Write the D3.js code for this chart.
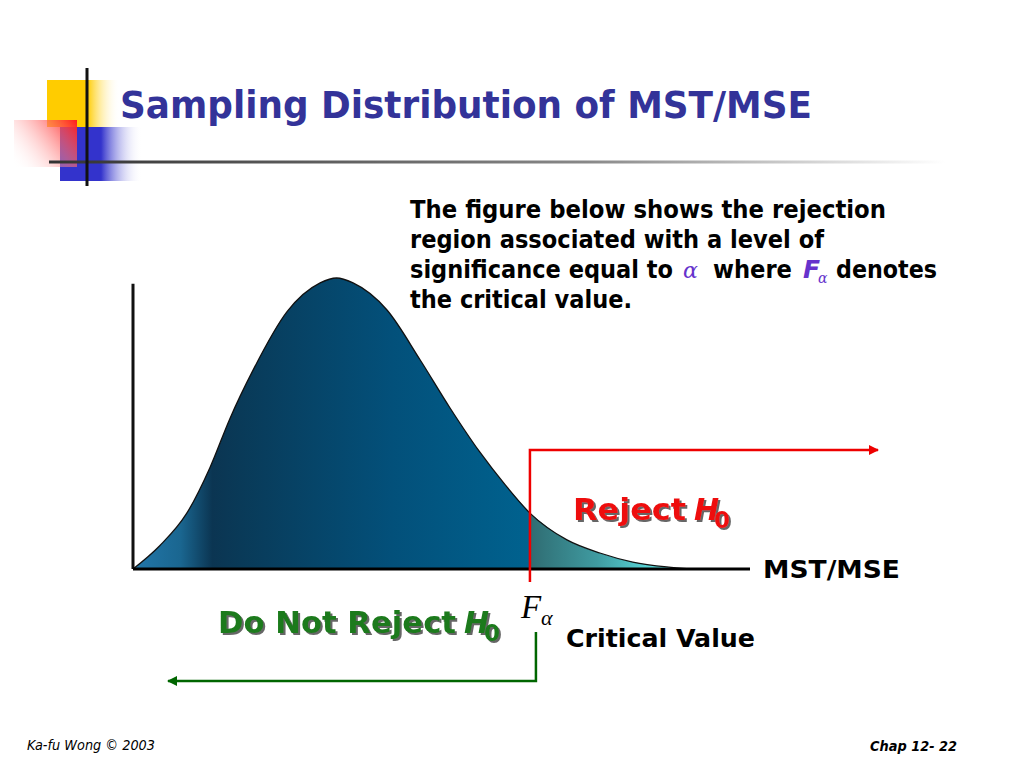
<!DOCTYPE html>
<html>
<head>
<meta charset="utf-8">
<script src="https://cdn.jsdelivr.net/npm/d3@7"></script>
<style>
  body { margin: 0; background: #fff; }
  svg { display: block; }
</style>
</head>
<body>
<svg width="1024" height="768"></svg>
<script>
// F-like density (x in MST/MSE units, y relative to peak)
const densityX = [0, 0.26, 0.52, 0.75, 0.94, 1.17, 1.5, 1.82, 1.98, 2.14, 2.47, 2.79, 3.08, 3.37, 3.62, 3.86, 4.22, 4.54, 4.86, 5.19, 5.42];
const densityY = [0, 0.08, 0.19, 0.35, 0.515, 0.685, 0.885, 0.983, 1.0, 0.983, 0.89, 0.72, 0.555, 0.403, 0.289, 0.192, 0.10, 0.055, 0.024, 0.007, 0];
const criticalValue = 3.86;
const xMax = 6;
const yAxisTop = 0.98;

const bodyLines = [
  "The figure below shows the rejection",
  "region associated with a level of",
  null,
  "the critical value."
];
const lineWidths = [476, 414, null, 222];

const svg = d3.select("svg");
const font = "'DejaVu Sans', Verdana, sans-serif";

const x = d3.scaleLinear().domain([0, xMax]).range([133, 750]);
const y = d3.scaleLinear().domain([0, 1]).range([569, 278]);

const defs = svg.append("defs");

const grad = (id, stops, x1, x2, y1 = 0, y2 = 0) => {
  const g = defs.append("linearGradient").attr("id", id)
    .attr("gradientUnits", "userSpaceOnUse")
    .attr("x1", x1).attr("x2", x2).attr("y1", y1).attr("y2", y2);
  stops.forEach(([o, c, op = 1]) =>
    g.append("stop").attr("offset", o).attr("stop-color", c).attr("stop-opacity", op));
};

const shadow = defs.append("filter").attr("id", "shadow")
  .attr("x", "-10%").attr("y", "-20%").attr("width", "130%").attr("height", "150%");
shadow.append("feDropShadow").attr("dx", 2).attr("dy", 2).attr("stdDeviation", 0.4)
  .attr("flood-color", "#555555").attr("flood-opacity", 0.9);

// --- title decoration ---
grad("yellowFade", [[0, "#ffcc00"], [0.55, "#ffcc00"], [1, "#ffffff", 0]], 47, 120);
grad("blueFade", [[0, "#3333cc"], [0.5, "#3333cc"], [1, "#ffffff", 0]], 60, 142);
grad("redFade", [[0, "#ffffff", 0], [1, "#ff1a1a"]], 14, 77, 167, 120);
grad("ruleFade", [[0, "#333333"], [0.6, "#888888"], [1, "#ffffff"]], 49, 945);

svg.append("rect").attr("x", 47).attr("y", 80).attr("width", 73).attr("height", 47).attr("fill", "url(#yellowFade)");
svg.append("rect").attr("x", 60).attr("y", 127).attr("width", 82).attr("height", 54).attr("fill", "url(#blueFade)");
svg.append("rect").attr("x", 14).attr("y", 120).attr("width", 63).attr("height", 47).attr("fill", "url(#redFade)");
svg.append("line").attr("x1", 49).attr("x2", 945).attr("y1", 162).attr("y2", 162)
  .attr("stroke", "url(#ruleFade)").attr("stroke-width", 3);
svg.append("line").attr("x1", 87).attr("x2", 87).attr("y1", 68).attr("y2", 186)
  .attr("stroke", "#111").attr("stroke-width", 3);

svg.append("text").attr("x", 120).attr("y", 118)
  .attr("font-family", font).attr("font-weight", "bold").attr("font-size", 37)
  .attr("fill", "#333399").attr("textLength", 692).attr("lengthAdjust", "spacingAndGlyphs")
  .text("Sampling Distribution of MST/MSE");

// --- explanation text ---
const bodyText = svg.append("g").attr("font-family", font).attr("font-weight", "bold")
  .attr("font-size", 25).attr("fill", "#000");
bodyLines.forEach((s, i) => {
  if (!s) return;
  bodyText.append("text").attr("x", 410).attr("y", 218 + i * 30)
    .attr("textLength", lineWidths[i]).attr("lengthAdjust", "spacingAndGlyphs").text(s);
});
const l3 = bodyText.append("text").attr("y", 278);
l3.append("tspan").attr("x", 410).attr("textLength", 263).attr("lengthAdjust", "spacingAndGlyphs").text("significance equal to");
l3.append("tspan").attr("x", 683).attr("font-family", "'DejaVu Serif', 'Liberation Serif', serif")
  .attr("font-style", "italic").attr("font-weight", "normal").attr("fill", "#6633cc").attr("font-size", 22).text("α");
l3.append("tspan").attr("x", 713).attr("textLength", 79).attr("lengthAdjust", "spacingAndGlyphs").text("where");
l3.append("tspan").attr("x", 803).attr("font-style", "italic").attr("fill", "#6633cc").text("F");
l3.append("tspan").attr("x", 818).attr("dy", 5).attr("font-family", "'DejaVu Serif', serif")
  .attr("font-style", "italic").attr("font-weight", "normal").attr("fill", "#6633cc").attr("font-size", 14).text("α");
l3.append("tspan").attr("x", 836).attr("dy", -5).attr("textLength", 101).attr("lengthAdjust", "spacingAndGlyphs").text("denotes");

// --- distribution ---
const pts = densityX.map((d, i) => [d, densityY[i]]);
const bodyPts = pts.filter(p => p[0] <= criticalValue);
const tailPts = pts.filter(p => p[0] >= criticalValue);

const curve = d3.curveMonotoneX;
const area = d3.area().x(p => x(p[0])).y0(y(0)).y1(p => y(p[1])).curve(curve);
const line = d3.line().x(p => x(p[0])).y(p => y(p[1])).curve(curve);

grad("bodyFill", [
  [0, "#2277aa"], [0.12, "#1a6690"], [0.2, "#0b3552"], [0.27, "#093a58"],
  [0.65, "#03507a"], [1, "#00628f"]
], x(0), x(criticalValue));
grad("tailFill", [[0, "#2f6c72"], [0.45, "#3f9aa0"], [1, "#66f5f5"]], x(criticalValue), x(5.3));

svg.append("path").attr("d", area(bodyPts)).attr("fill", "url(#bodyFill)");
svg.append("path").attr("d", area(tailPts)).attr("fill", "url(#tailFill)");
svg.append("path").attr("d", line(pts)).attr("fill", "none").attr("stroke", "#111").attr("stroke-width", 1.3);

// axes
svg.append("line").attr("x1", x(0)).attr("x2", x(0)).attr("y1", y(yAxisTop)).attr("y2", y(0))
  .attr("stroke", "#111").attr("stroke-width", 3);
svg.append("line").attr("x1", x(0)).attr("x2", x(xMax)).attr("y1", y(0)).attr("y2", y(0))
  .attr("stroke", "#000").attr("stroke-width", 3);

svg.append("text").attr("x", x(xMax) + 13).attr("y", 578)
  .attr("font-family", font).attr("font-weight", "bold").attr("font-size", 24)
  .attr("textLength", 137).attr("lengthAdjust", "spacingAndGlyphs").text("MST/MSE");

// --- arrows ---
const marker = (id, color) => defs.append("marker").attr("id", id)
  .attr("viewBox", "0 0 10 10").attr("refX", 9).attr("refY", 5)
  .attr("markerWidth", 5).attr("markerHeight", 4).attr("orient", "auto-start-reverse")
  .attr("markerUnits", "strokeWidth")
  .append("path").attr("d", "M0,0 L10,5 L0,10 z").attr("fill", color);
marker("arrowRed", "#ee0000");
marker("arrowGreen", "#006600");

const xc = x(criticalValue);
svg.append("path").attr("d", `M${xc},${y(0) + 13} V450 H${x(xMax) + 128}`)
  .attr("fill", "none").attr("stroke", "#ee0000").attr("stroke-width", 2.5)
  .attr("marker-end", "url(#arrowRed)");
svg.append("path").attr("d", `M${xc + 6},632 V681 H${x(0) + 35}`)
  .attr("fill", "none").attr("stroke", "#006600").attr("stroke-width", 2.5)
  .attr("marker-end", "url(#arrowGreen)");

// --- labels ---
const shadowLabel = (xPos, yPos, main, sub, fill, width) => {
  const t = svg.append("text").attr("x", xPos).attr("y", yPos)
    .attr("font-family", font).attr("font-weight", "bold").attr("font-size", 30)
    .attr("fill", fill).attr("filter", "url(#shadow)");
  t.append("tspan").attr("textLength", width).attr("lengthAdjust", "spacingAndGlyphs").text(main);
  t.append("tspan").attr("dx", 8).attr("font-style", "italic").text("H");
  t.append("tspan").attr("dy", 8).attr("font-size", 23).attr("dx", -5).text(sub);
};
shadowLabel(573, 520, "Reject", "0", "#ee1111", 113);
shadowLabel(218, 633, "Do Not Reject", "0", "#1a7a1a", 238);

const fa = svg.append("text").attr("x", xc - 9).attr("y", 618)
  .attr("font-family", "'Liberation Serif', 'Times New Roman', serif").attr("font-style", "italic")
  .attr("font-size", 33).text("F");
fa.append("tspan").attr("x", xc + 11).attr("y", 625).attr("font-size", 22).text("α");

svg.append("text").attr("x", 566).attr("y", 647)
  .attr("font-family", font).attr("font-weight", "bold").attr("font-size", 24)
  .attr("textLength", 189).attr("lengthAdjust", "spacingAndGlyphs").text("Critical Value");

// --- footer ---
svg.append("text").attr("x", 27).attr("y", 750).attr("font-family", font).attr("font-style", "italic")
  .attr("font-size", 14).attr("textLength", 128).attr("lengthAdjust", "spacingAndGlyphs").text("Ka-fu Wong © 2003");
svg.append("text").attr("x", 870).attr("y", 751).attr("font-family", font).attr("font-style", "italic")
  .attr("font-weight", "bold").attr("font-size", 14).attr("textLength", 87).attr("lengthAdjust", "spacingAndGlyphs").text("Chap 12- 22");
</script>
</body>
</html>
